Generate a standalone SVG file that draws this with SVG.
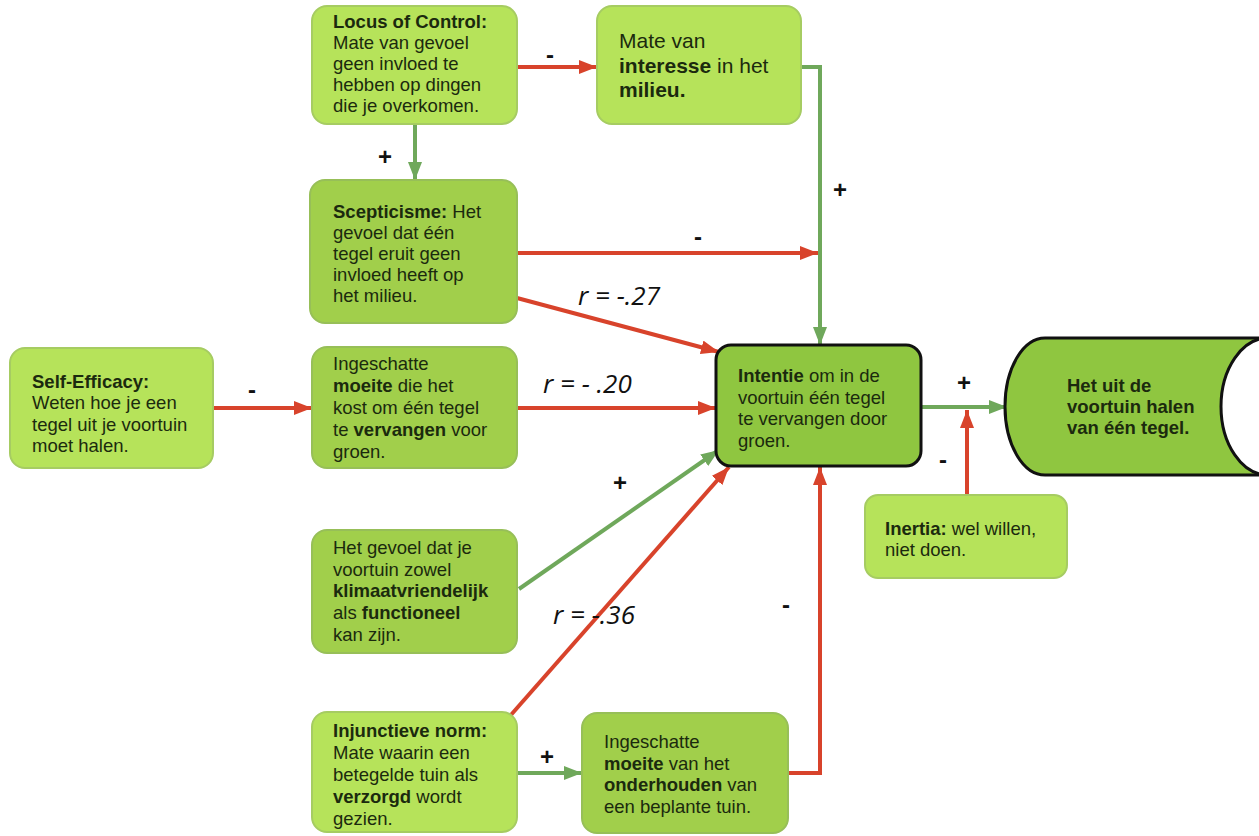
<svg xmlns="http://www.w3.org/2000/svg" width="1259" height="836" viewBox="0 0 1259 836">
<style>
.light{fill:#b6e35a;stroke:#a6cc62;stroke-width:2}
.dark{fill:#a1cf4b;stroke:#97bf58;stroke-width:2}
.key{fill:#8fc640;stroke:#111;stroke-width:3}
.t{font-family:"Liberation Sans",Arial,sans-serif;font-size:18.5px;fill:#1b2a0e}
.b{font-weight:bold}
.red{stroke:#d8432b;stroke-width:4;fill:none}
.grn{stroke:#6fa85b;stroke-width:4;fill:none}
.sign{font-family:"Liberation Sans",Arial,sans-serif;font-weight:bold;font-size:24px;fill:#111;text-anchor:middle}
.r{font-family:"Open Sans","Noto Sans",sans-serif;font-style:italic;font-size:26px;fill:#111}
</style>
<defs>
<marker id="ar" markerUnits="userSpaceOnUse" markerWidth="18" markerHeight="14" refX="18" refY="7" orient="auto"><path d="M0,0 L18,7 L0,14 z" fill="#d8432b"/></marker>
<marker id="ag" markerUnits="userSpaceOnUse" markerWidth="18" markerHeight="14" refX="18" refY="7" orient="auto"><path d="M0,0 L18,7 L0,14 z" fill="#6fa85b"/></marker>
</defs>
<rect width="1259" height="836" fill="#fff"/>
<g id="connectors">
<line class="red" x1="518" y1="67" x2="597" y2="67" marker-end="url(#ar)"/>
<line class="grn" x1="415" y1="124" x2="415" y2="180" marker-end="url(#ag)"/>
<line class="red" x1="517" y1="253" x2="818" y2="253" marker-end="url(#ar)"/>
<polyline class="grn" points="801,67 820,67 820,345" marker-end="url(#ag)"/>
<line class="red" x1="517" y1="298" x2="719" y2="352" marker-end="url(#ar)"/>
<line class="red" x1="213" y1="408" x2="312" y2="408" marker-end="url(#ar)"/>
<line class="red" x1="517" y1="408" x2="716" y2="408" marker-end="url(#ar)"/>
<line class="grn" x1="519" y1="589" x2="719" y2="450" marker-end="url(#ag)"/>
<line class="red" x1="510" y1="716" x2="729" y2="467" marker-end="url(#ar)"/>
<line class="grn" x1="517" y1="773" x2="582" y2="773" marker-end="url(#ag)"/>
<polyline class="red" points="788,773 820,773 820,467" marker-end="url(#ar)"/>
<line class="grn" x1="922" y1="407" x2="1007" y2="407" marker-end="url(#ag)"/>
<line class="red" x1="967" y1="495" x2="967" y2="410" marker-end="url(#ar)"/>
<text class="sign" x="550" y="63">-</text>
<text class="sign" x="385" y="165">+</text>
<text class="sign" x="840" y="198">+</text>
<text class="sign" x="698" y="245">-</text>
<text class="sign" x="252" y="398">-</text>
<text class="sign" x="620" y="491">+</text>
<text class="sign" x="547" y="765">+</text>
<text class="sign" x="786" y="613">-</text>
<text class="sign" x="964" y="391">+</text>
<text class="sign" x="943" y="468">-</text>
<text class="r" x="578" y="305">r = -.27</text>
<text class="r" x="543" y="393">r = - .20</text>
<text class="r" x="553" y="624">r = -.36</text>
</g>
<g id="locus">
<rect class="light" x="312" y="6" width="205" height="118" rx="15"/>
<text class="t" x="333" y="28"><tspan class="b">Locus of Control:</tspan><tspan x="333" dy="21">Mate van gevoel</tspan><tspan x="333" dy="21">geen invloed te</tspan><tspan x="333" dy="21">hebben op dingen</tspan><tspan x="333" dy="21">die je overkomen.</tspan></text>
</g>
<g id="interesse">
<rect class="light" x="597" y="6" width="204" height="118" rx="15"/>
<text class="t" style="font-size:21px" x="619" y="48">Mate van<tspan x="619" dy="24.5"><tspan class="b">interesse</tspan> in het</tspan><tspan x="619" dy="24.5" class="b">milieu.</tspan></text>
</g>
<g id="scepticisme">
<rect class="dark" x="310" y="180" width="207" height="143" rx="15"/>
<text class="t" x="333" y="218"><tspan class="b">Scepticisme:</tspan> Het<tspan x="333" dy="21">gevoel dat één</tspan><tspan x="333" dy="21">tegel eruit geen</tspan><tspan x="333" dy="21">invloed heeft op</tspan><tspan x="333" dy="21">het milieu.</tspan></text>
</g>
<g id="selfefficacy">
<rect class="light" x="10" y="348" width="203" height="120" rx="15"/>
<text class="t" x="32" y="388"><tspan class="b">Self-Efficacy:</tspan><tspan x="32" dy="21.3">Weten hoe je een</tspan><tspan x="32" dy="21.3">tegel uit je voortuin</tspan><tspan x="32" dy="21.3">moet halen.</tspan></text>
</g>
<g id="moeite-vervangen">
<rect class="dark" x="312" y="347" width="205" height="121" rx="15"/>
<text class="t" x="333" y="370">Ingeschatte<tspan x="333" dy="22"><tspan class="b">moeite</tspan> die het</tspan><tspan x="333" dy="22">kost om één tegel</tspan><tspan x="333" dy="22">te <tspan class="b">vervangen</tspan> voor</tspan><tspan x="333" dy="22">groen.</tspan></text>
</g>
<g id="intentie">
<rect class="key" x="716" y="345" width="205" height="121" rx="15"/>
<text class="t" x="738" y="382"><tspan class="b">Intentie</tspan> om in de<tspan x="738" dy="21.5">voortuin één tegel</tspan><tspan x="738" dy="21.5">te vervangen door</tspan><tspan x="738" dy="21.5">groen.</tspan></text>
</g>
<g id="gedrag">
<path d="M1045,338 L1262,338 L1262,475 L1045,475 A40,68.5 0 0 1 1045,338 Z" fill="#8fc640" stroke="#111" stroke-width="3"/>
<ellipse cx="1268" cy="406.5" rx="47" ry="68.5" fill="#fff" stroke="#111" stroke-width="3"/>
<text class="t b" x="1067" y="392">Het uit de<tspan x="1067" dy="21">voortuin halen</tspan><tspan x="1067" dy="21">van één tegel.</tspan></text>
</g>
<g id="inertia">
<rect class="light" x="865" y="495" width="202" height="83" rx="13"/>
<text class="t" x="885" y="535"><tspan class="b">Inertia:</tspan> wel willen,<tspan x="885" dy="21">niet doen.</tspan></text>
</g>
<g id="gevoel">
<rect class="dark" x="312" y="530" width="205" height="123" rx="15"/>
<text class="t" x="333" y="554">Het gevoel dat je<tspan x="333" dy="21.7">voortuin zowel</tspan><tspan x="333" dy="21.7" class="b">klimaatvriendelijk</tspan><tspan x="333" dy="21.7">als <tspan class="b">functioneel</tspan></tspan><tspan x="333" dy="21.7">kan zijn.</tspan></text>
</g>
<g id="injunctief">
<rect class="light" x="312" y="712" width="205" height="120" rx="15"/>
<text class="t" x="333" y="737"><tspan class="b">Injunctieve norm:</tspan><tspan x="333" dy="22">Mate waarin een</tspan><tspan x="333" dy="22">betegelde tuin als</tspan><tspan x="333" dy="22"><tspan class="b">verzorgd</tspan> wordt</tspan><tspan x="333" dy="22">gezien.</tspan></text>
</g>
<g id="moeite-onderhouden">
<rect class="dark" x="582" y="713" width="206" height="120" rx="15"/>
<text class="t" x="604" y="748">Ingeschatte<tspan x="604" dy="21.7"><tspan class="b">moeite</tspan> van het</tspan><tspan x="604" dy="21.7"><tspan class="b">onderhouden</tspan> van</tspan><tspan x="604" dy="21.7">een beplante tuin.</tspan></text>
</g>
</svg>
